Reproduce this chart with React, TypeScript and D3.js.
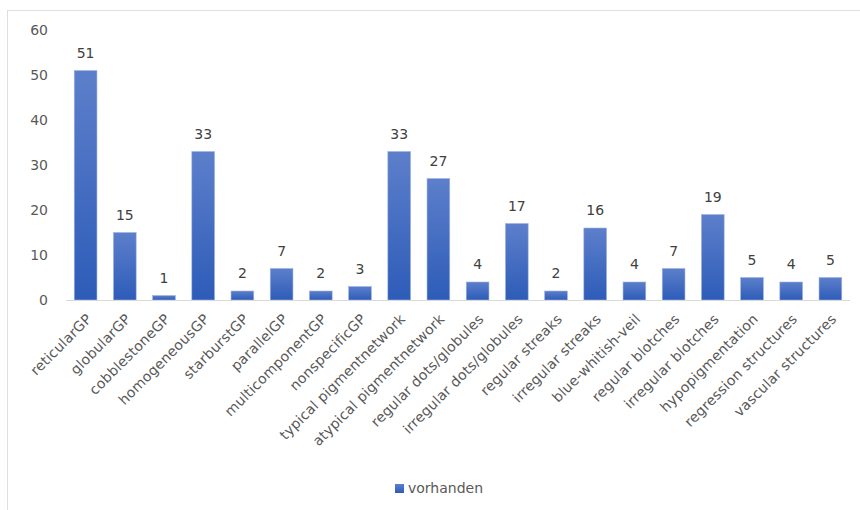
import React from "react";
import * as d3 from "d3";

const categories = [
  "reticularGP",
  "globularGP",
  "cobblestoneGP",
  "homogeneousGP",
  "starburstGP",
  "parallelGP",
  "multicomponentGP",
  "nonspecificGP",
  "typical pigmentnetwork",
  "atypical pigmentnetwork",
  "regular dots/globules",
  "irregular dots/globules",
  "regular streaks",
  "irregular streaks",
  "blue-whitish-veil",
  "regular blotches",
  "irregular blotches",
  "hypopigmentation",
  "regression structures",
  "vascular structures",
];
const values = [51, 15, 1, 33, 2, 7, 2, 3, 33, 27, 4, 17, 2, 16, 4, 7, 19, 5, 4, 5];
const yTicks = [0, 10, 20, 30, 40, 50, 60];
const seriesName = "vorhanden";

const W = 860;
const H = 510;
const FONT = "'DejaVu Sans', sans-serif";

export default function App() {
  const x = d3.scaleBand<string>().domain(categories).range([66, 850]).paddingInner(0.42).paddingOuter(0.21);
  const y = d3.scaleLinear().domain([0, 60]).range([300, 30]);

  return (
    <div style={{ position: "absolute", left: 0, top: 0 }}>
      <svg width={W} height={H} style={{ display: "block", background: "#fff" }}>
        <defs>
          <linearGradient id="barGrad" x1="0" y1="0" x2="0" y2="1">
            <stop offset="0%" stopColor="#5d7fcb" />
            <stop offset="100%" stopColor="#2d5cb8" />
          </linearGradient>
        </defs>
        <rect x={7.5} y={10.5} width={900} height={600} fill="none" stroke="#dcdfe4" strokeWidth={1} />
        {yTicks.map((t) => (
          <text
            key={t}
            x={48}
            y={y(t)}
            dy="0.36em"
            textAnchor="end"
            fontFamily={FONT}
            fontSize={14}
            fill="#595959"
          >
            {t}
          </text>
        ))}
        {categories.map((c, i) => {
          const bx = x(c)!;
          const bw = x.bandwidth();
          const v = values[i];
          return (
            <g key={c}>
              <rect
                x={bx}
                y={y(v)}
                width={bw}
                height={y(0) - y(v)}
                fill="url(#barGrad)"
                stroke="#9fb4e2"
                strokeWidth={0.6}
              />
              <text
                x={bx + bw / 2}
                y={y(v) - 13}
                textAnchor="middle"
                fontFamily={FONT}
                fontSize={14}
                fill="#404040"
              >
                {v}
              </text>
            </g>
          );
        })}
        <line x1={66} x2={850} y1={300.5} y2={300.5} stroke="#d9d9d9" strokeWidth={1} />
        {categories.map((c) => {
          const cx = x(c)! + x.bandwidth() / 2;
          const ty = 313;
          return (
            <text
              key={c}
              transform={`translate(${cx},${ty}) rotate(-45)`}
              textAnchor="end"
              dy="0.7em"
              fontFamily={FONT}
              fontSize={14}
              letterSpacing={0.2}
              fill="#595959"
            >
              {c}
            </text>
          );
        })}
        <rect x={395} y={484} width={9} height={9} fill="url(#barGrad)" />
        <text x={408} y={493} fontFamily={FONT} fontSize={14} fill="#595959">
          {seriesName}
        </text>
      </svg>
    </div>
  );
}
